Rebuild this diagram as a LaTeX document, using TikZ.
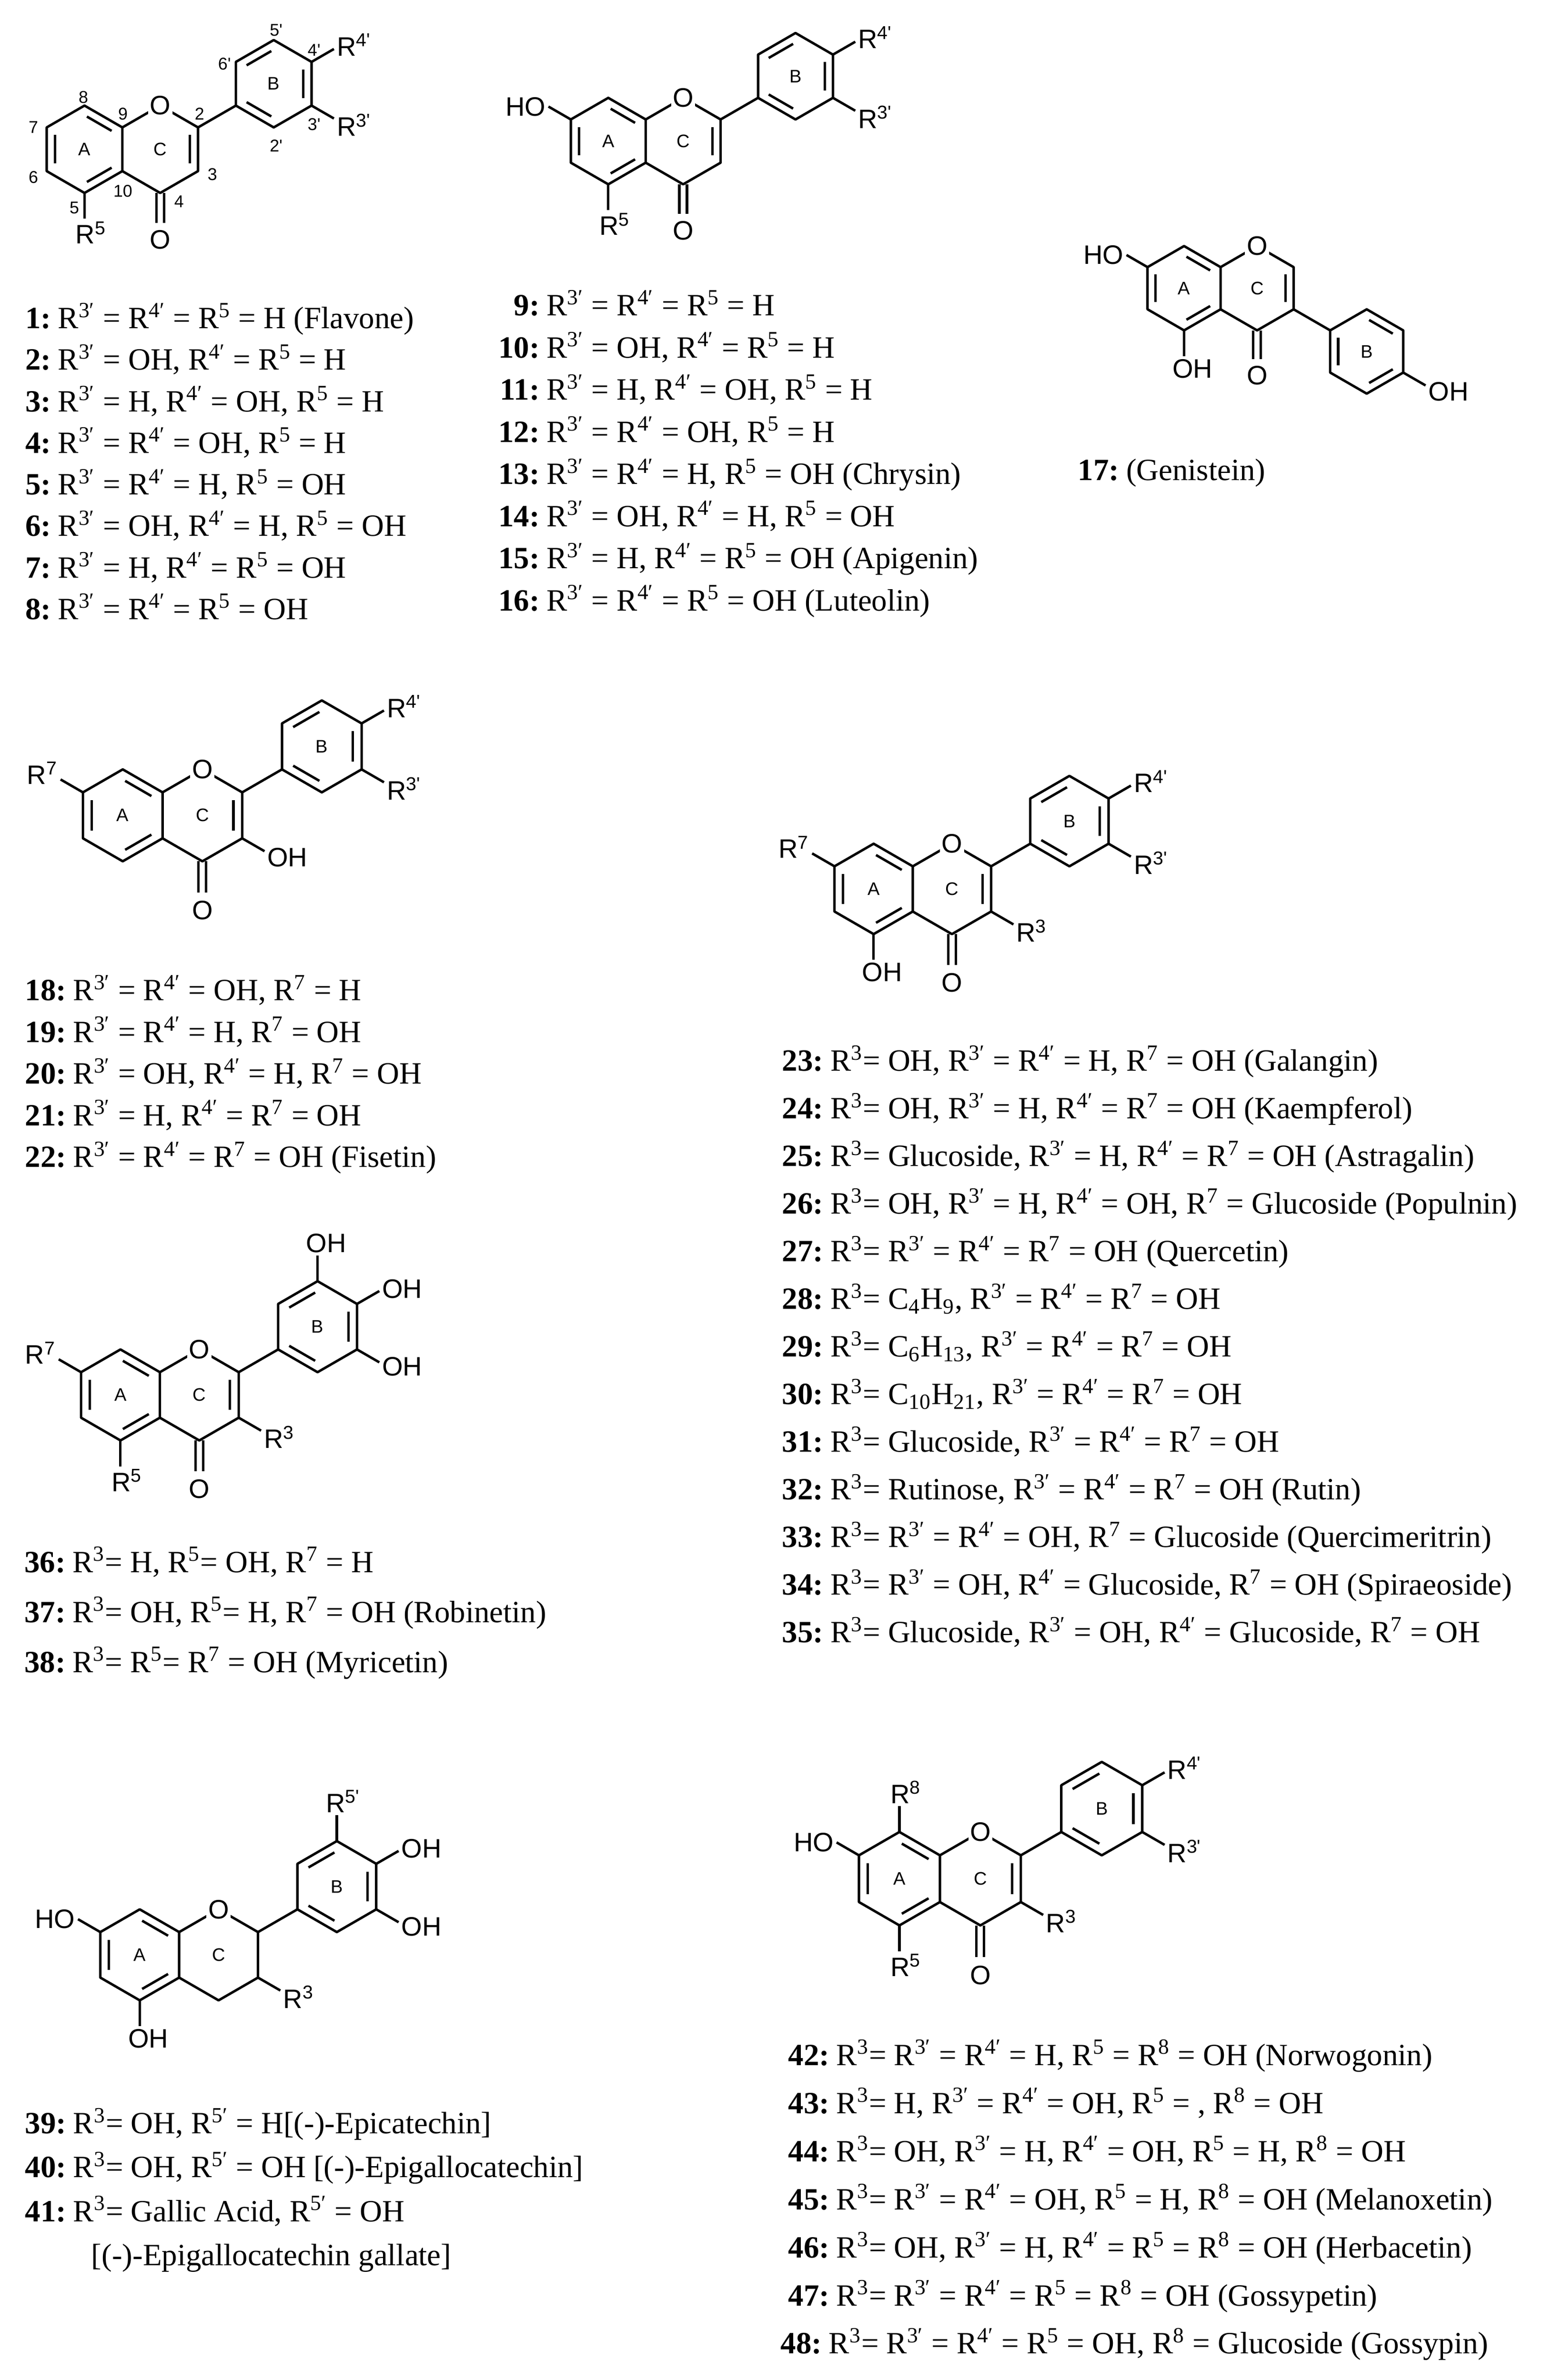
\documentclass[tikz,border=0pt]{standalone}
\usepackage{fontspec}
\setmainfont{Liberation Serif}
\newfontfamily\chemfont{Liberation Sans}
\usetikzlibrary{calc}
\tikzset{
  bond/.style={line width=1.15pt, line join=round},
  atom/.style={font=\chemfont\fontsize{12.5}{13}\selectfont, inner sep=0.8pt},
  ringlbl/.style={font=\chemfont\fontsize{8.5}{9}\selectfont, inner sep=0pt},
  numlbl/.style={font=\chemfont\fontsize{8}{9}\selectfont, inner sep=0pt},
  lst/.style={font=\fontsize{14.5}{16}\selectfont, inner sep=0pt}
}
\newcommand\hexc[4]{%
 \coordinate (#1c) at (#2,#3);
 \coordinate (#1v1) at (#2,{#3-#4});
 \coordinate (#1v2) at ({#2+0.866*#4},{#3-0.5*#4});
 \coordinate (#1v3) at ({#2+0.866*#4},{#3+0.5*#4});
 \coordinate (#1v4) at (#2,{#3+#4});
 \coordinate (#1v5) at ({#2-0.866*#4},{#3+0.5*#4});
 \coordinate (#1v6) at ({#2-0.866*#4},{#3-0.5*#4});}
\newcommand\hexdraw[1]{\draw[bond] (#1v1)--(#1v2)--(#1v3)--(#1v4)--(#1v5)--(#1v6)--cycle;}
\newcommand\dbl[3]{\draw[bond,shorten <=1.3pt,shorten >=1.3pt] ($(#1)!0.22!(#3)$) -- ($(#2)!0.22!(#3)$);}
\newcommand\ringletters[1]{%
 \node[ringlbl] at (#1Ac) {A}; \node[ringlbl] at (#1Bc) {B}; \node[ringlbl] at (#1Cc) {C};}
\newcommand\basering[4]{%
 \hexc{#1A}{#2}{#3}{#4}
 \hexc{#1C}{#2+1.732*#4}{#3}{#4}
 \hexdraw{#1A}
 \dbl{#1Av1}{#1Av2}{#1Ac}\dbl{#1Av5}{#1Av6}{#1Ac}\dbl{#1Av3}{#1Av4}{#1Ac}}
\newcommand\bphenyl[1]{%
 \hexdraw{#1B}
 \dbl{#1Bv6}{#1Bv1}{#1Bc}\dbl{#1Bv2}{#1Bv3}{#1Bc}\dbl{#1Bv4}{#1Bv5}{#1Bc}}
\newcommand\carbonyl[2]{%
 \draw[bond] ($(#1Cv4)+(-2.5,0)$) -- ++(0,{0.68*#2});
 \draw[bond] ($(#1Cv4)+(2.5,0)$) -- ++(0,{0.68*#2});
 \node[atom] at ($(#1Cv4)+(0,{1.07*#2})$) {O};}
\newcommand\flavone[4]{%
 \basering{#1}{#2}{#3}{#4}
 \hexc{#1B}{#2+4.33*#4}{#3-1.5*#4}{#4}
 \bphenyl{#1}
 \draw[bond] (#1Av2)--(#1Cv1)--(#1Cv2)--(#1Cv3)--(#1Cv4)--(#1Av3);
 \draw[bond] (#1Cv2)--(#1Bv5);
 \dbl{#1Cv2}{#1Cv3}{#1Cc}
 \carbonyl{#1}{#4}
 \node[atom,fill=white] at (#1Cv1) {O};
 \ringletters{#1}}
\newcommand\catechin[4]{%
 \basering{#1}{#2}{#3}{#4}
 \hexc{#1B}{#2+4.33*#4}{#3-1.5*#4}{#4}
 \bphenyl{#1}
 \draw[bond] (#1Av2)--(#1Cv1)--(#1Cv2)--(#1Cv3)--(#1Cv4)--(#1Av3);
 \draw[bond] (#1Cv2)--(#1Bv5);
 \node[atom,fill=white] at (#1Cv1) {O};
 \ringletters{#1}}
\newcommand\isoflavone[4]{%
 \basering{#1}{#2}{#3}{#4}
 \hexc{#1B}{#2+4.33*#4}{#3+1.5*#4}{#4}
 \hexdraw{#1B}
 \dbl{#1Bv6}{#1Bv5}{#1Bc}\dbl{#1Bv1}{#1Bv2}{#1Bc}\dbl{#1Bv3}{#1Bv4}{#1Bc}
 \draw[bond] (#1Av2)--(#1Cv1)--(#1Cv2)--(#1Cv3)--(#1Cv4)--(#1Av3);
 \draw[bond] (#1Cv3)--(#1Bv6);
 \dbl{#1Cv2}{#1Cv3}{#1Cc}
 \carbonyl{#1}{#4}
 \node[atom,fill=white] at (#1Cv1) {O};
 \ringletters{#1}}
\newcommand\sub[5]{\draw[bond] (#1) -- ++(#2:#3) node[atom,#4] {#5};}
\newcommand\Rx[1]{R\textsuperscript{#1}}
\newcommand\row[4]{\node[lst,anchor=base east] at (#1,{#2+6.5}) {\textbf{#3:}};
 \node[lst,anchor=base west] at ({#1+4},{#2+6.5}) {#4};}
\newcommand\R[1]{R\textsuperscript{#1}}
\newcommand\Rp[1]{R\textsuperscript{#1′}}
\begin{document}
\begin{tikzpicture}[x=0.25mm,y=-0.25mm]
\fill[white] (0,0) rectangle (1024,1569);
\useasboundingbox (0,0) rectangle (1024,1569);

% ---------- structure 1
\flavone{a}{55.7}{98.4}{28.8}
\sub{aAv4}{90}{17}{anchor=north,xshift=3pt}{\Rx{5}}
\sub{aBv2}{-30}{17}{anchor=west,yshift=2pt}{\Rx{4'}}
\sub{aBv3}{30}{17}{anchor=west,yshift=-3pt}{\Rx{3'}}
\foreach \t/\px/\py in {8/55/64,9/81/75,7/22/84,6/22/117,5/49/137,10/81/126,4/118/133,3/140/115,2/131.5/75,6'/148/42,5'/182/20,4'/207/33,3'/207/82,2'/182/96}
  \node[numlbl] at (\px,\py) {\t};

% ---------- structure 9
\flavone{b}{400.9}{93}{28.5}
\sub{bAv6}{210}{17}{anchor=east}{HO}
\sub{bAv4}{90}{17}{anchor=north,xshift=3pt}{\Rx{5}}
\sub{bBv2}{-30}{17}{anchor=west,yshift=2pt}{\Rx{4'}}
\sub{bBv3}{30}{17}{anchor=west,yshift=-3pt}{\Rx{3'}}

% ---------- structure 17 (genistein)
\isoflavone{g}{780.4}{190}{27.8}
\sub{gAv6}{210}{16}{anchor=east}{HO}
\sub{gAv4}{90}{17}{anchor=north,xshift=4pt}{OH}
\sub{gBv3}{30}{17}{anchor=west,yshift=-3pt}{OH}

% ---------- structure 18
\flavone{c}{80.9}{537.5}{30.3}
\sub{cAv6}{210}{17}{anchor=east,yshift=3pt}{\Rx{7}}
\sub{cCv3}{30}{17}{anchor=west,yshift=-3pt}{OH}
\sub{cBv2}{-30}{17}{anchor=west,yshift=2pt}{\Rx{4'}}
\sub{cBv3}{30}{17}{anchor=west,yshift=-3pt}{\Rx{3'}}

% ---------- structure 23
\flavone{d}{575.8}{586}{29.8}
\sub{dAv6}{210}{17}{anchor=east,yshift=3pt}{\Rx{7}}
\sub{dAv4}{90}{17}{anchor=north,xshift=4pt}{OH}
\sub{dCv3}{30}{17}{anchor=west,yshift=-3pt}{\Rx{3}}
\sub{dBv2}{-30}{17}{anchor=west,yshift=2pt}{\Rx{4'}}
\sub{dBv3}{30}{17}{anchor=west,yshift=-3pt}{\Rx{3'}}

% ---------- structure 36
\flavone{e}{79.4}{919.6}{30}
\sub{eAv6}{210}{17}{anchor=east,yshift=3pt}{\Rx{7}}
\sub{eAv4}{90}{17}{anchor=north,xshift=3pt}{\Rx{5}}
\sub{eCv3}{30}{17}{anchor=west,yshift=-3pt}{\Rx{3}}
\sub{eBv1}{-90}{17}{anchor=south,xshift=4pt}{OH}
\sub{eBv2}{-30}{17}{anchor=west,yshift=1pt}{OH}
\sub{eBv3}{30}{17}{anchor=west,yshift=-2pt}{OH}

% ---------- structure 39
\catechin{f}{92.1}{1288.7}{30}
\sub{fAv6}{210}{17}{anchor=east}{HO}
\sub{fAv4}{90}{17}{anchor=north,xshift=4pt}{OH}
\sub{fCv3}{30}{17}{anchor=west,yshift=-3pt}{\Rx{3}}
\sub{fBv1}{-90}{17}{anchor=south,xshift=3pt}{\Rx{5'}}
\sub{fBv2}{-30}{17}{anchor=west,yshift=1pt}{OH}
\sub{fBv3}{30}{17}{anchor=west,yshift=-2pt}{OH}

% ---------- structure 42
\flavone{h}{592.8}{1238.5}{30.8}
\sub{hAv1}{-90}{17}{anchor=south,xshift=3pt}{\Rx{8}}
\sub{hAv6}{210}{17}{anchor=east}{HO}
\sub{hAv4}{90}{17}{anchor=north,xshift=3pt}{\Rx{5}}
\sub{hCv3}{30}{17}{anchor=west,yshift=-3pt}{\Rx{3}}
\sub{hBv2}{-30}{17}{anchor=west,yshift=2pt}{\Rx{4'}}
\sub{hBv3}{30}{17}{anchor=west,yshift=-3pt}{\Rx{3'}}

% ---------- lists
\row{34}{210.0}{1}{\Rp{3} = \Rp{4} = \R{5} = H (Flavone)}
\row{34}{237.4}{2}{\Rp{3} = OH, \Rp{4} = \R{5} = H}
\row{34}{264.8}{3}{\Rp{3} = H, \Rp{4} = OH, \R{5} = H}
\row{34}{292.2}{4}{\Rp{3} = \Rp{4} = OH, \R{5} = H}
\row{34}{319.6}{5}{\Rp{3} = \Rp{4} = H, \R{5} = OH}
\row{34}{347.0}{6}{\Rp{3} = OH, \Rp{4} = H, \R{5} = OH}
\row{34}{374.4}{7}{\Rp{3} = H, \Rp{4} = \R{5} = OH}
\row{34}{401.8}{8}{\Rp{3} = \Rp{4} = \R{5} = OH}

\row{356}{201.5}{9}{\Rp{3} = \Rp{4} = \R{5} = H}
\row{356}{229.3}{10}{\Rp{3} = OH, \Rp{4} = \R{5} = H}
\row{356}{257.1}{11}{\Rp{3} = H, \Rp{4} = OH, \R{5} = H}
\row{356}{284.9}{12}{\Rp{3} = \Rp{4} = OH, \R{5} = H}
\row{356}{312.7}{13}{\Rp{3} = \Rp{4} = H, \R{5} = OH (Chrysin)}
\row{356}{340.5}{14}{\Rp{3} = OH, \Rp{4} = H, \R{5} = OH}
\row{356}{368.3}{15}{\Rp{3} = H, \Rp{4} = \R{5} = OH (Apigenin)}
\row{356}{396.1}{16}{\Rp{3} = \Rp{4} = \R{5} = OH (Luteolin)}

\row{738}{310}{17}{(Genistein)}

\row{44}{653.0}{18}{\Rp{3} = \Rp{4} = OH, \R{7} = H}
\row{44}{680.5}{19}{\Rp{3} = \Rp{4} = H, \R{7} = OH}
\row{44}{708.0}{20}{\Rp{3} = OH, \Rp{4} = H, \R{7} = OH}
\row{44}{735.5}{21}{\Rp{3} = H, \Rp{4} = \R{7} = OH}
\row{44}{763.0}{22}{\Rp{3} = \Rp{4} = \R{7} = OH (Fisetin)}

\row{543}{699.5}{23}{\R{3}= OH, \Rp{3} = \Rp{4} = H, \R{7} = OH (Galangin)}
\row{543}{730.9}{24}{\R{3}= OH, \Rp{3} = H, \Rp{4} = \R{7} = OH (Kaempferol)}
\row{543}{762.3}{25}{\R{3}= Glucoside, \Rp{3} = H, \Rp{4} = \R{7} = OH (Astragalin)}
\row{543}{793.7}{26}{\R{3}= OH, \Rp{3} = H, \Rp{4} = OH, \R{7} = Glucoside (Populnin)}
\row{543}{825.1}{27}{\R{3}= \Rp{3} = \Rp{4} = \R{7} = OH (Quercetin)}
\row{543}{856.5}{28}{\R{3}= C\textsubscript{4}H\textsubscript{9}, \Rp{3} = \Rp{4} = \R{7} = OH}
\row{543}{887.9}{29}{\R{3}= C\textsubscript{6}H\textsubscript{13}, \Rp{3} = \Rp{4} = \R{7} = OH}
\row{543}{919.3}{30}{\R{3}= C\textsubscript{10}H\textsubscript{21}, \Rp{3} = \Rp{4} = \R{7} = OH}
\row{543}{950.7}{31}{\R{3}= Glucoside, \Rp{3} = \Rp{4} = \R{7} = OH}
\row{543}{982.1}{32}{\R{3}= Rutinose, \Rp{3} = \Rp{4} = \R{7} = OH (Rutin)}
\row{543}{1013.5}{33}{\R{3}= \Rp{3} = \Rp{4} = OH, \R{7} = Glucoside (Quercimeritrin)}
\row{543}{1044.9}{34}{\R{3}= \Rp{3} = OH, \Rp{4} = Glucoside, \R{7} = OH (Spiraeoside)}
\row{543}{1076.3}{35}{\R{3}= Glucoside, \Rp{3} = OH, \Rp{4} = Glucoside, \R{7} = OH}

\row{43.5}{1030}{36}{\R{3}= H, \R{5}= OH, \R{7} = H}
\row{43.5}{1063}{37}{\R{3}= OH, \R{5}= H, \R{7} = OH (Robinetin)}
\row{43.5}{1096}{38}{\R{3}= \R{5}= \R{7} = OH (Myricetin)}

\row{44}{1400}{39}{\R{3}= OH, \Rp{5} = H[(-)-Epicatechin]}
\row{44}{1429}{40}{\R{3}= OH, \Rp{5} = OH [(-)-Epigallocatechin]}
\row{44}{1458}{41}{\R{3}= Gallic Acid, \Rp{5} = OH}
\node[lst,anchor=base west] (l41b) at (60,1493.5) {[(-)-Epigallocatechin gallate]};

\row{547}{1355.0}{42}{\R{3}= \Rp{3} = \Rp{4} = H, \R{5} = \R{8} = OH (Norwogonin)}
\row{547}{1386.7}{43}{\R{3}= H, \Rp{3} = \Rp{4} = OH, \R{5} = , \R{8} = OH}
\row{547}{1418.4}{44}{\R{3}= OH, \Rp{3} = H, \Rp{4} = OH, \R{5} = H, \R{8} = OH}
\row{547}{1450.1}{45}{\R{3}= \Rp{3} = \Rp{4} = OH, \R{5} = H, \R{8} = OH (Melanoxetin)}
\row{547}{1481.8}{46}{\R{3}= OH, \Rp{3} = H, \Rp{4} = \R{5} = \R{8} = OH (Herbacetin)}
\row{547}{1513.5}{47}{\R{3}= \Rp{3} = \Rp{4} = \R{5} = \R{8} = OH (Gossypetin)}
\row{542}{1545.2}{48}{\R{3}= \Rp{3} = \Rp{4} = \R{5} = OH, \R{8} = Glucoside (Gossypin)}
\end{tikzpicture}
\end{document}
